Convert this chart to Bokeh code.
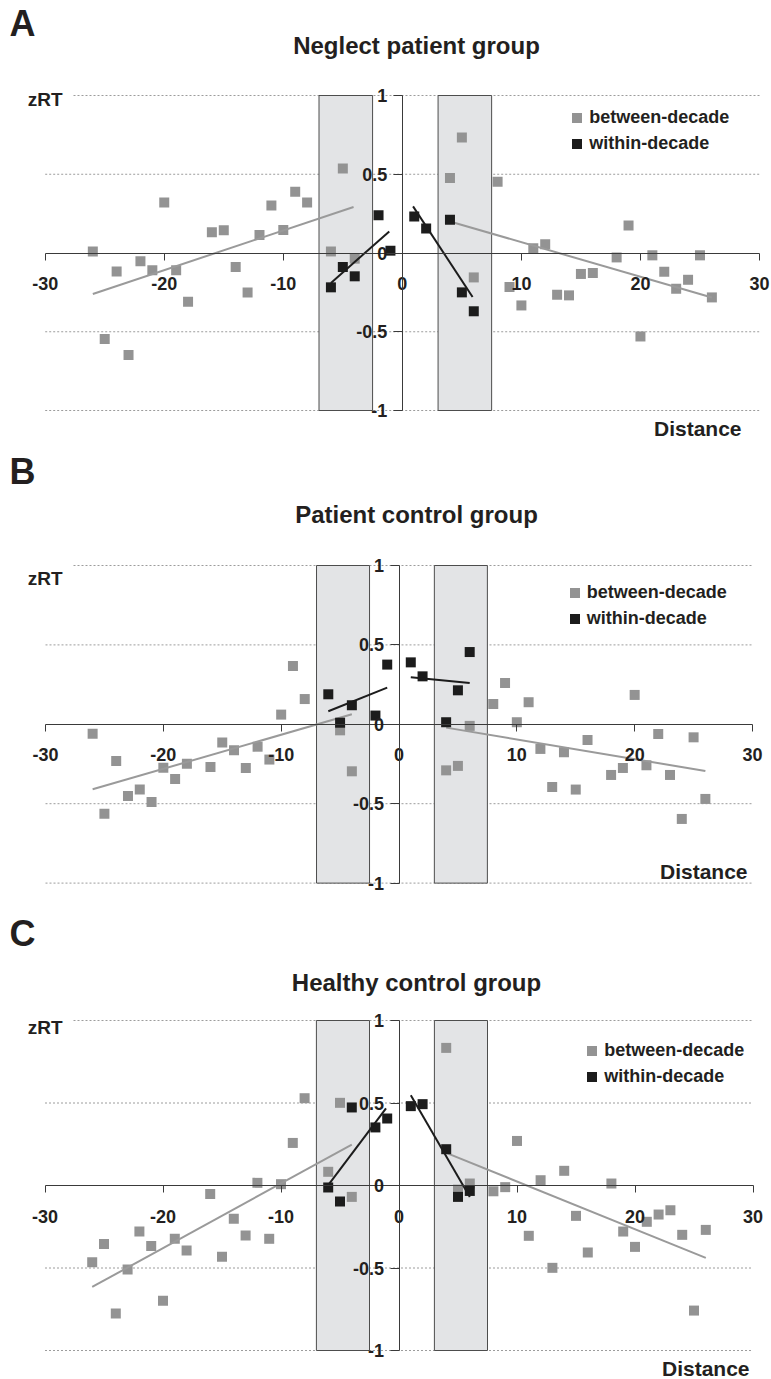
from bokeh.plotting import figure
from bokeh.layouts import column
from bokeh.models import (Range1d, LinearAxis, FixedTicker, Label, Legend,
                          LegendItem, ColumnDataSource)
from bokeh.embed import file_html
from bokeh.resources import INLINE

# ---------------- data ----------------
x_ticks = [-30, -20, -10, 0, 10, 20, 30]
y_ticks = [-1, -0.5, 0, 0.5, 1]
grid_y = [-1, -0.5, 0.5]
shade_left = [-7, 3]
shade_right = [-2.5, 7.5]

gray_x_left = [-26, -25, -24, -23, -22, -21, -20, -19, -18, -16, -15, -14, -13, -12, -11, -10, -9, -8, -6, -5, -4]
gray_x_right = [4, 5, 6, 8, 9, 10, 11, 12, 13, 14, 15, 16, 18, 19, 20, 21, 22, 23, 24, 25, 26]
black_x = [-6, -5, -4, -2, -1, 1, 2, 4, 5, 6]

# Panel A: Neglect patient group
a_gray_y_left = [0.01, -0.546, -0.117, -0.648, -0.053, -0.11, 0.32, -0.11, -0.31, 0.131, 0.144, -0.089, -0.25, 0.114, 0.302, 0.146, 0.389, 0.321, 0.01, 0.537, -0.036]
a_gray_y_right = [0.476, 0.734, -0.155, 0.453, -0.216, -0.333, 0.03, 0.055, -0.265, -0.269, -0.133, -0.127, -0.028, 0.175, -0.53, -0.015, -0.119, -0.227, -0.17, -0.015, -0.282]
a_black_y = [-0.218, -0.089, -0.148, 0.239, 0.015, 0.232, 0.156, 0.211, -0.25, -0.37]
a_gray_fit_x = [[-26, -4.1], [4, 26]]
a_gray_fit_y = [[-0.26, 0.292], [0.2, -0.282]]
a_black_fit_x = [[-6, -1.1], [0.9, 5.9]]
a_black_fit_y = [[-0.19, 0.137], [0.296, -0.279]]

# Panel B: Patient control group (no visible gray point at -6)
b_gray_x_left = [-26, -25, -24, -23, -22, -21, -20, -19, -18, -16, -15, -14, -13, -12, -11, -10, -9, -8, -5, -4]
b_gray_y_left = [-0.059, -0.563, -0.231, -0.451, -0.411, -0.489, -0.273, -0.344, -0.248, -0.269, -0.115, -0.164, -0.275, -0.141, -0.222, 0.061, 0.367, 0.159, -0.038, -0.296]
b_gray_y_right = [-0.29, -0.262, -0.01, 0.128, 0.26, 0.013, 0.139, -0.155, -0.395, -0.176, -0.411, -0.099, -0.319, -0.275, 0.185, -0.258, -0.061, -0.319, -0.596, -0.082, -0.47]
b_black_y = [0.189, 0.01, 0.12, 0.055, 0.376, 0.39, 0.302, 0.013, 0.214, 0.455]
b_gray_fit_x = [[-26, -4], [4, 26]]
b_gray_fit_y = [[-0.409, 0.063], [-0.021, -0.294]]
b_black_fit_x = [[-6, -1], [1, 6]]
b_black_fit_y = [[0.082, 0.231], [0.296, 0.26]]

# Panel C: Healthy control group
c_gray_y_left = [-0.465, -0.354, -0.776, -0.509, -0.279, -0.366, -0.699, -0.323, -0.394, -0.051, -0.432, -0.202, -0.303, 0.016, -0.323, 0.008, 0.258, 0.529, 0.083, 0.501, -0.069]
c_gray_y_right = [0.834, -0.025, 0.012, -0.035, -0.01, 0.27, -0.305, 0.032, -0.499, 0.089, -0.184, -0.406, 0.012, -0.279, -0.372, -0.22, -0.176, -0.15, -0.299, -0.758, -0.269]
c_black_y = [-0.012, -0.097, 0.473, 0.352, 0.406, 0.481, 0.493, 0.22, -0.069, -0.033]
c_gray_fit_x = [[-26, -4], [4, 26]]
c_gray_fit_y = [[-0.615, 0.248], [0.198, -0.439]]
c_black_fit_x = [[-6, -1.1], [1, 6]]
c_black_fit_y = [[0.002, 0.467], [0.547, -0.069]]

# ---------------- styling ----------------
FONT = "Liberation Sans"
TXT = "#231f20"
GRAY = "#939393"
BLACK = "#1c1c1c"
GRID = "#9c9c9c"
W = 771


def make_panel(letter, title, gxl, gyl, gxr, gyr, bx, by, gfx, gfy, bfx, bfy, lay):
    top, h, y1_px, unit_y, xm30_px, x30_px, leg_cx, leg_cy, lab = lay
    ux = (x30_px - xm30_px) / 60.0
    x0 = -30 - xm30_px / ux
    x1 = x0 + W / ux
    y1 = 1 + (y1_px - top) / unit_y
    y0 = y1 - h / unit_y

    def X(px):
        return x0 + px / ux

    def Y(py):
        return y1 - (py - top) / unit_y

    p = figure(width=W, height=h, x_range=Range1d(x0, x1), y_range=Range1d(y0, y1),
               output_backend="svg", toolbar_location=None, x_axis_type=None,
               y_axis_type=None, min_border=0, outline_line_color=None)
    p.background_fill_color = "white"
    p.border_fill_color = "white"

    # dotted gridlines spanning the x axis extent
    n = len(grid_y)
    p.segment(x0=[x_ticks[0]] * n, x1=[x_ticks[-1]] * n, y0=grid_y, y1=grid_y,
              line_color=GRID, line_dash="2 2", line_width=1, level="underlay")
    p.segment(x0=[X(73)], x1=[x_ticks[-1]], y0=[y_ticks[-1]], y1=[y_ticks[-1]],
              line_color=GRID, line_dash="2 2", line_width=1, level="underlay")

    # shaded regions
    p.quad(left=shade_left, right=shade_right, bottom=[-1, -1], top=[1, 1],
           fill_color="#e3e4e6", line_color="#4d4d4d", line_width=1, level="underlay")

    # axes crossing at zero
    common = dict(major_label_text_font=FONT, major_label_text_font_style="bold",
                  major_label_text_font_size="18px", major_label_text_color=TXT,
                  axis_line_color="#3a3a3a", axis_line_width=1,
                  major_tick_line_color="#3a3a3a", major_tick_in=0,
                  minor_tick_in=0, minor_tick_out=0, level="glyph")
    xaxis = LinearAxis(fixed_location=0, ticker=FixedTicker(ticks=x_ticks), bounds=(-30, 30),
                       major_tick_out=7, major_label_standoff=17,
                       major_label_overrides={t: str(t) for t in x_ticks}, **common)
    yaxis = LinearAxis(fixed_location=0, ticker=FixedTicker(ticks=y_ticks), bounds=(-1, 1),
                       major_tick_out=9, major_label_standoff=6,
                       major_label_overrides={-1: "-1", -0.5: "-0.5", 0: "0", 0.5: "0.5", 1: "1"},
                       **common)
    p.add_layout(xaxis, "below")
    p.add_layout(yaxis, "left")

    gsrc = ColumnDataSource(dict(x=list(gxl) + list(gxr), y=list(gyl) + list(gyr)))
    bsrc = ColumnDataSource(dict(x=bx, y=by))
    rg = p.scatter("x", "y", source=gsrc, marker="square", size=10, fill_color=GRAY,
                   line_color=None)
    p.multi_line(gfx, gfy, line_color="#9a9a9a", line_width=2)
    rb = p.scatter("x", "y", source=bsrc, marker="square", size=10, fill_color=BLACK,
                   line_color=None)
    p.multi_line(bfx, bfy, line_color=BLACK, line_width=2)

    # legend
    leg_left = leg_cx - 12.5
    leg_bottom = leg_cy - 12.5 + 51
    legend = Legend(items=[LegendItem(label="between-decade", renderers=[rg]),
                           LegendItem(label="within-decade", renderers=[rb])],
                    location=(leg_left, top + h - leg_bottom),
                    glyph_width=25, glyph_height=25, label_height=25, label_width=10,
                    spacing=1, padding=0, margin=0, label_standoff=0,
                    label_text_font=FONT, label_text_font_style="bold",
                    label_text_font_size="18px", label_text_color=TXT,
                    background_fill_alpha=0, border_line_color=None)
    p.add_layout(legend)

    # texts
    a_base, t_base, z_base, d_right, d_base = lab
    p.add_layout(Label(x=X(9), y=Y(a_base), text=letter, text_font=FONT,
                       text_font_style="bold", text_font_size="36px", text_color=TXT,
                       text_align="left", text_baseline="alphabetic"))
    p.add_layout(Label(x=X(416), y=Y(t_base), text=title, text_font=FONT,
                       text_font_style="bold", text_font_size="24px", text_color=TXT,
                       text_align="center", text_baseline="alphabetic"))
    p.add_layout(Label(x=X(62), y=Y(z_base), text="zRT", text_font=FONT,
                       text_font_style="bold", text_font_size="19px", text_color=TXT,
                       text_align="right", text_baseline="alphabetic"))
    p.add_layout(Label(x=X(d_right), y=Y(d_base), text="Distance", text_font=FONT,
                       text_font_style="bold", text_font_size="21px", text_color=TXT,
                       text_align="right", text_baseline="alphabetic"))
    return p


# layout: top, height, page y of 1, px per unit y, page x of -30, page x of 30,
#         legend first-square centre (x, y), (letter, title, zRT, Distance right, Distance) anchors
lay_a = (0, 450, 95, 157.5, 44.7, 759, 576.7, 117.3, (23, 45, 99, 741, 428))
lay_b = (450, 450, 565, 158.8, 45, 752, 574.3, 592.3, (471, 514, 578, 747, 871))
lay_c = (900, 479, 1020, 165, 44.5, 752.5, 591.7, 1050.7, (933, 982, 1027, 749, 1368))

pa = make_panel("A", "Neglect patient group", gray_x_left, a_gray_y_left, gray_x_right,
                a_gray_y_right, black_x, a_black_y, a_gray_fit_x, a_gray_fit_y,
                a_black_fit_x, a_black_fit_y, lay_a)
pb = make_panel("B", "Patient control group", b_gray_x_left, b_gray_y_left, gray_x_right,
                b_gray_y_right, black_x, b_black_y, b_gray_fit_x, b_gray_fit_y,
                b_black_fit_x, b_black_fit_y, lay_b)
pc = make_panel("C", "Healthy control group", gray_x_left, c_gray_y_left, gray_x_right,
                c_gray_y_right, black_x, c_black_y, c_gray_fit_x, c_gray_fit_y,
                c_black_fit_x, c_black_fit_y, lay_c)

layout = column(pa, pb, pc, spacing=0)
open("out.html", "w").write(file_html(layout, INLINE))
